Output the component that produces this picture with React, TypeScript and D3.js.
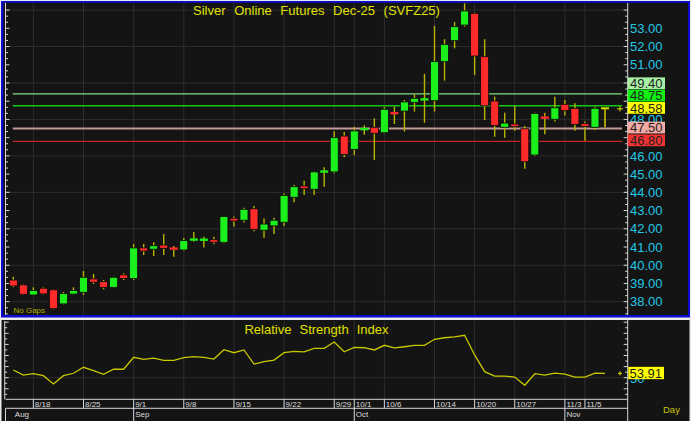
import React from 'react';
import * as d3 from 'd3';

const dates = ['8/14','8/15','8/18','8/19','8/20','8/21','8/22','8/25','8/26','8/27','8/28','8/29','9/1','9/2','9/3','9/4','9/5','9/8','9/9','9/10','9/11','9/12','9/15','9/16','9/17','9/18','9/19','9/22','9/23','9/24','9/25','9/26','9/29','9/30','10/1','10/2','10/3','10/6','10/7','10/8','10/9','10/10','10/14','10/15','10/16','10/17','10/20','10/21','10/22','10/23','10/27','10/28','10/29','10/30','10/31','11/3','11/4','11/5','11/6','11/7'];

const opens = [39.19,38.92,38.37,38.74,38.65,37.88,38.42,38.52,39.25,39.10,38.79,39.47,39.27,40.95,40.88,41.11,40.95,40.84,41.40,41.39,41.40,41.26,42.58,42.47,43.10,41.92,42.16,42.36,43.73,44.35,44.17,45.13,45.12,47.09,46.36,47.46,47.57,47.27,48.37,48.46,48.94,49.08,49.03,51.17,52.32,53.18,53.82,51.44,49.01,47.57,47.75,47.49,46.05,48.12,48.01,48.83,48.61,47.77,47.57,48.61];
const highs = [39.37,38.95,38.79,38.79,38.68,38.53,38.79,39.69,39.52,39.19,39.37,39.56,41.17,41.17,41.26,41.72,41.06,41.50,41.83,41.57,41.57,42.70,42.67,43.16,43.25,42.56,42.61,43.93,44.40,44.64,45.15,45.37,47.35,47.31,47.60,47.68,48.06,48.67,48.70,49.07,49.38,50.50,53.13,52.40,53.35,54.37,53.86,52.40,49.25,48.37,48.74,47.64,48.37,48.37,49.25,49.07,48.89,47.88,48.70,48.61];
const lows = [38.79,38.38,38.35,38.40,37.58,37.85,38.40,38.37,38.97,38.68,38.75,39.19,39.19,40.56,40.51,40.56,40.47,40.80,41.30,40.97,41.15,41.20,42.12,42.34,41.86,41.51,41.72,42.16,43.46,43.86,43.86,44.31,45.05,45.92,46.05,47.16,45.78,47.24,47.75,47.33,48.43,47.82,48.43,50.13,51.90,53.09,50.44,47.97,47.05,47.00,47.38,45.30,46.00,47.19,47.88,48.21,47.38,46.83,47.42,47.57];
const closes = [38.86,38.41,38.61,38.43,37.62,38.44,38.61,39.34,39.07,38.79,39.34,39.27,40.95,40.78,41.07,40.93,40.88,41.35,41.42,41.41,41.26,42.67,42.43,43.07,41.97,42.26,42.47,43.82,44.31,44.20,45.12,45.15,47.00,46.07,47.37,47.48,47.24,48.56,48.32,48.96,49.16,49.12,51.17,52.12,53.09,53.95,51.48,48.75,47.66,47.80,47.60,45.68,48.32,48.08,48.64,48.48,47.73,47.62,48.61,48.58];

const rsiValues = [56.9,52.4,53.6,51.8,44.3,51.8,54.0,59.4,56.3,53.1,57.6,57.6,68.4,66.6,67.7,65.6,65.6,68.0,68.9,68.4,66.8,75.2,72.5,75.0,62.3,64.4,65.9,72.5,73.8,73.2,76.5,76.5,82.2,73.4,77.4,77.0,75.0,79.2,76.8,77.9,79.2,79.2,84.6,86.0,86.7,88.2,70.5,55.4,51.5,51.5,50.6,43.2,53.6,52.4,54.2,53.3,50.6,50.6,54.2,53.91];

const dateTicks = ['8/18','8/25','9/1','9/8','9/15','9/22','9/29','10/1','10/6','10/14','10/20','10/27','11/3','11/5'];
const monthLabels = ['Aug','Sep','Oct','Nov'];
const monthStarts = ['8/14','9/1','10/1','11/3'];

// price labels visible on the right scale (50, 49 and 47 are covered by the level boxes)
const priceLabels = [38,39,40,41,42,43,44,45,46,48,51,52,53];
const gridPrices = [38,40,42,44,46,48,50,52,54];
const rsiGrid = [50];
const rsiLabels = [50];

const levelValues = [49.40, 48.75, 47.50, 46.80];
const levelLineColors = ['#7fdc7f', '#12c812', '#c49a98', '#c02626'];
const levelBoxColors = ['#a8f0a4', '#10f010', '#f4aaa4', '#f03434'];
const lastPrice = 48.58;
const lastRsi = 53.91;

const titleText = 'Silver Online Futures Dec-25 (SVFZ25)';
const rsiTitle = 'Relative Strength Index';

const FONT = '"Liberation Sans", Arial, Helvetica, sans-serif';
const CYAN = '#22c8e4';
const YELLOW = '#e0e000';
const WICK = '#b8b400';
const GREEN = '#1cf01c';
const RED = '#ff2a2a';
const GRID = '#2e2e2e';
const AXIS = '#d8d8d8';

export default function App() {
  const W = 691, H = 421;
  const plotL = 5.5, plotR = 627.7;
  const mainTop = 3, mainBot = 315;
  const rsiTop = 321, rsiBot = 399.3;

  const x = d3.scalePoint<string>().domain(dates).range([13.3, 605]);
  const y = d3.scaleLinear().domain([38, 53]).range([301.7, 28.3]);
  const yr = d3.scaleLinear().domain([50, 100]).range([377.7, 322.2]);

  const candles = dates.map((d, i) => ({ d, o: opens[i], h: highs[i], l: lows[i], c: closes[i], last: i === dates.length - 1 }));

  const priceTicks = d3.range(37 + 1 / 3, 54.5, 1 / 3).filter(v => y(v) > mainTop + 1 && y(v) < mainBot - 1);
  const rsiTicks = d3.range(35, 101, 5);

  const rsiLine = d3.line<number>().x((_, i) => x(dates[i])!).y(v => yr(v));

  const labelItems = [
    ...levelValues.map((v, i) => ({ v, bg: levelBoxColors[i] })),
    { v: lastPrice, bg: '#ffff00' },
  ].sort((a, b) => b.v - a.v);
  const gap = 12.3;
  const centers: number[] = new Array(labelItems.length);
  for (let i = labelItems.length - 1; i >= 0; i--) {
    const want = y(labelItems[i].v) - 1;
    centers[i] = i === labelItems.length - 1 ? want : Math.min(want, centers[i + 1] - gap);
  }

  const bw = 8;

  return (
    <svg width={W} height={H} style={{ position: 'absolute', left: 0, top: 0, display: 'block' }} fontFamily={FONT}>
      <rect x={0} y={0} width={W} height={H} fill="#ececec" />
      <rect x={1} y={1} width={689} height={316.5} fill="#0c0cd2" />
      <rect x={3.3} y={2.7} width={684.7} height={312.3} fill="#141414" />
      <rect x={1.5} y={320} width={688} height={101} fill="#141414" />

      {gridPrices.map(p => (
        <line key={'gp' + p} x1={plotL} x2={plotR} y1={y(p)} y2={y(p)} stroke={GRID} strokeWidth={1} />
      ))}
      {dateTicks.map(d => (
        <line key={'gv' + d} x1={x(d)} x2={x(d)} y1={mainTop} y2={mainBot} stroke={GRID} strokeWidth={1} />
      ))}

      <line x1={plotL} x2={plotL} y1={mainTop} y2={mainBot} stroke={AXIS} strokeWidth={1} />
      <line x1={plotR} x2={plotR} y1={mainTop} y2={mainBot} stroke={AXIS} strokeWidth={1} />
      {priceTicks.map((v, i) => {
        const major = Math.abs(v - Math.round(v)) < 0.01;
        const len = major ? 4 : 2.5;
        return (
          <g key={'pt' + i}>
            <line x1={plotL} x2={plotL + len} y1={y(v)} y2={y(v)} stroke={AXIS} strokeWidth={1} />
            <line x1={plotR - len} x2={plotR} y1={y(v)} y2={y(v)} stroke={AXIS} strokeWidth={1} />
          </g>
        );
      })}

      {levelValues.map((v, i) => (
        <line key={'lv' + v} x1={12.7} x2={622} y1={y(v)} y2={y(v)} stroke={levelLineColors[i]} strokeWidth={v === 47.5 ? 2 : 1.3} />
      ))}

      {candles.map(c => {
        const cx = x(c.d)!;
        const up = c.c >= c.o;
        const col = c.last ? '#d8d800' : up ? GREEN : RED;
        const top = y(Math.max(c.o, c.c));
        const bot = y(Math.min(c.o, c.c));
        const hgt = Math.max(bot - top, 2);
        return (
          <g key={'c' + c.d}>
            <line x1={cx} x2={cx} y1={y(c.h)} y2={y(c.l)} stroke={c.last ? '#d8d800' : WICK} strokeWidth={1.4} />
            {c.last ? (
              <rect x={cx - bw / 2} y={top - 1} width={bw} height={2} fill={col} />
            ) : hgt <= 2.5 ? (
              <rect x={cx - bw / 2} y={(top + bot) / 2 - 1.2} width={bw} height={2.4} fill={col} />
            ) : (
              <rect x={cx - bw / 2} y={top} width={bw} height={hgt} fill={col} stroke="#0a0a0a" strokeWidth={0.8} />
            )}
          </g>
        );
      })}

      <g stroke={YELLOW} strokeWidth={1}>
        <line x1={617} x2={623} y1={y(lastPrice)} y2={y(lastPrice)} />
        <line x1={620} x2={620} y1={y(lastPrice) - 2.5} y2={y(lastPrice) + 2.5} />
      </g>

      {priceLabels.map(p => (
        <text key={'pl' + p} x={630} y={y(p)} dy="0.36em" fontSize={13} fill={CYAN}>{p.toFixed(2)}</text>
      ))}
      {labelItems.map((it, i) => (
        <g key={'lb' + it.v}>
          <rect x={627.7} y={centers[i] - 5.9} width={37.3} height={11.8} fill={it.bg} />
          <text x={630} y={centers[i]} dy="0.36em" fontSize={13} fill="#1e1e1e">{it.v.toFixed(2)}</text>
        </g>
      ))}

      <text x={316.5} y={15} textAnchor="middle" fontSize={13} fill={YELLOW} wordSpacing={5}>{titleText}</text>
      <text x={13.5} y={313} fontSize={8} fill="#b0b000">No Gaps</text>

      {rsiGrid.map(v => (
        <line key={'rg' + v} x1={plotL} x2={plotR} y1={yr(v)} y2={yr(v)} stroke={GRID} strokeWidth={1} />
      ))}
      {dateTicks.map(d => (
        <line key={'rv' + d} x1={x(d)} x2={x(d)} y1={rsiTop} y2={rsiBot} stroke={GRID} strokeWidth={1} />
      ))}
      <line x1={4.7} x2={4.7} y1={rsiTop} y2={rsiBot} stroke={AXIS} strokeWidth={1} />
      <line x1={plotR} x2={plotR} y1={320} y2={H} stroke={AXIS} strokeWidth={1} />
      {rsiTicks.map(v => {
        const len = v % 10 === 0 ? 4 : 2.5;
        return (
          <g key={'rt' + v}>
            <line x1={4.7} x2={4.7 + len} y1={yr(v)} y2={yr(v)} stroke={AXIS} strokeWidth={1} />
            <line x1={plotR - len} x2={plotR} y1={yr(v)} y2={yr(v)} stroke={AXIS} strokeWidth={1} />
          </g>
        );
      })}
      <path d={rsiLine(rsiValues) || ''} fill="none" stroke="#c8c800" strokeWidth={1.3} />
      <text x={316.5} y={334.3} textAnchor="middle" fontSize={13} fill={YELLOW} wordSpacing={4.5}>{rsiTitle}</text>
      {rsiLabels.map(v => (
        <text key={'rl' + v} x={630} y={yr(v) + 1} dy="0.36em" fontSize={13} fill={CYAN}>{v}</text>
      ))}
      <rect x={628.3} y={yr(lastRsi) - 6.5} width={35.7} height={12.3} fill="#ffff00" />
      <text x={629.5} y={yr(lastRsi) - 0.4} dy="0.36em" fontSize={13} fill="#1e1e1e">{lastRsi.toFixed(2)}</text>
      <g stroke={YELLOW} strokeWidth={1}>
        <line x1={618} x2={622} y1={yr(lastRsi)} y2={yr(lastRsi)} />
        <line x1={620} x2={620} y1={yr(lastRsi) - 2} y2={yr(lastRsi) + 2} />
      </g>

      <line x1={plotL} x2={plotR} y1={rsiBot} y2={rsiBot} stroke={AXIS} strokeWidth={1} />
      <line x1={plotL} x2={plotR} y1={408.3} y2={408.3} stroke={AXIS} strokeWidth={1} />
      <line x1={plotL} x2={plotL} y1={408.3} y2={H} stroke={AXIS} strokeWidth={1} />
      {dateTicks.map(d => (
        <g key={'dt' + d}>
          <line x1={x(d)} x2={x(d)} y1={rsiBot} y2={408.3} stroke={AXIS} strokeWidth={1} />
          <text x={x(d)! + 1.5} y={406.7} fontSize={8} fill="#dcdcdc">{d}</text>
        </g>
      ))}
      {monthStarts.map((d, i) => (
        <g key={'ms' + d}>
          {i > 0 && <line x1={x(d)} x2={x(d)} y1={408.3} y2={H} stroke={AXIS} strokeWidth={1} />}
          <text x={x(d)! + 1.5} y={416.7} fontSize={8} fill="#dcdcdc">{monthLabels[i]}</text>
        </g>
      ))}
      <text x={663} y={413.3} fontSize={9.5} fill="#c8c800">Day</text>
    </svg>
  );
}
